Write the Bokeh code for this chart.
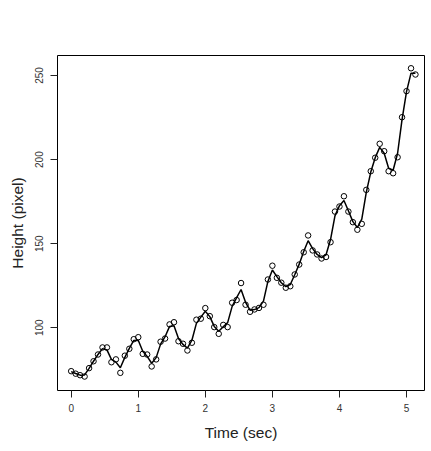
import numpy as np
from bokeh.plotting import figure
from bokeh.models import Range1d
from bokeh.embed import file_html
from bokeh.resources import INLINE

# Time of each measured frame (sec)
time_sec = [0.000, 0.067, 0.133, 0.200, 0.267, 0.333, 0.400, 0.467, 0.533, 0.600,
            0.667, 0.733, 0.800, 0.867, 0.933, 1.000, 1.067, 1.133, 1.200, 1.267,
            1.333, 1.400, 1.467, 1.533, 1.600, 1.667, 1.733, 1.800, 1.867, 1.933,
            2.000, 2.067, 2.133, 2.200, 2.267, 2.333, 2.400, 2.467, 2.533, 2.600,
            2.667, 2.733, 2.800, 2.867, 2.933, 3.000, 3.067, 3.133, 3.200, 3.267,
            3.333, 3.400, 3.467, 3.533, 3.600, 3.667, 3.733, 3.800, 3.867, 3.933,
            4.000, 4.067, 4.133, 4.200, 4.267, 4.333, 4.400, 4.467, 4.533, 4.600,
            4.667, 4.733, 4.800, 4.867, 4.933, 5.000, 5.067, 5.133]

# Measured height (pixel)
height_px = [74.2, 72.7, 71.8, 71.0, 76.0, 80.1, 84.1, 88.3, 88.3, 79.5,
             81.2, 73.2, 83.4, 87.5, 93.2, 94.4, 84.5, 84.1, 77.0, 81.2,
             91.7, 93.6, 102.0, 103.3, 92.0, 90.5, 86.5, 91.1, 104.8, 105.4,
             111.7, 106.9, 100.4, 96.4, 101.7, 100.4, 114.9, 116.5, 126.6, 113.7,
             109.5, 110.9, 111.8, 113.7, 128.7, 136.9, 129.7, 126.8, 123.8, 124.7,
             131.7, 137.6, 144.9, 154.9, 146.0, 143.6, 141.2, 142.1, 150.9, 169.1,
             172.1, 178.2, 169.1, 162.8, 158.3, 161.8, 182.0, 193.1, 201.1, 209.4,
             205.0, 193.1, 191.9, 201.4, 225.2, 240.7, 254.3, 250.6]

x_ticks = [0, 1, 2, 3, 4, 5]
y_ticks = [100, 150, 200, 250]

# smoothed curve fitted to the measurements (1-4-1 weighted running mean)
h = np.array(height_px, dtype=float)
fit = np.empty_like(h)
fit[1:-1] = (h[:-2] + 4 * h[1:-1] + h[2:]) / 6.0
fit[0] = (4 * h[0] + h[1]) / 5.0
fit[-1] = (h[-2] + 4 * h[-1]) / 5.0

FONT = "Liberation Sans"

p = figure(width=431, height=451, output_backend="svg", toolbar_location=None,
           x_range=Range1d(-0.204, 5.268), y_range=Range1d(62.7, 261.9),
           min_border_left=57, min_border_right=7, min_border_top=55,
           min_border_bottom=61, background_fill_color="white",
           border_fill_color="white")
p.grid.visible = False
p.outline_line_color = "black"
p.outline_line_width = 1
p.outline_line_alpha = 1.0

p.line(time_sec, fit.tolist(), line_color="black", line_width=1.5)
p.scatter(time_sec, height_px, marker="circle", size=5.5, fill_color=None,
          line_color="black", line_width=1)

for ax in (p.xaxis[0], p.yaxis[0]):
    ax.axis_line_color = None
    ax.major_tick_out = 7
    ax.major_tick_in = 0
    ax.major_tick_line_color = "#222222"
    ax.minor_tick_line_color = None
    ax.major_label_text_font = FONT
    ax.major_label_text_font_size = "10px"
    ax.major_label_text_color = "#333333"
    ax.axis_label_text_font = FONT
    ax.axis_label_text_font_size = "15.5px"
    ax.axis_label_text_font_style = "normal"
    ax.axis_label_text_color = "#222222"

p.xaxis.ticker = x_ticks
p.yaxis.ticker = y_ticks
p.xaxis.axis_label = "Time (sec)"
p.yaxis.axis_label = "Height (pixel)"
p.xaxis.major_label_standoff = 6
p.xaxis.axis_label_standoff = 9
p.yaxis.major_label_orientation = "vertical"
p.yaxis.major_label_standoff = 7
p.yaxis.axis_label_standoff = 7

open("out.html", "w").write(file_html(p, INLINE))
